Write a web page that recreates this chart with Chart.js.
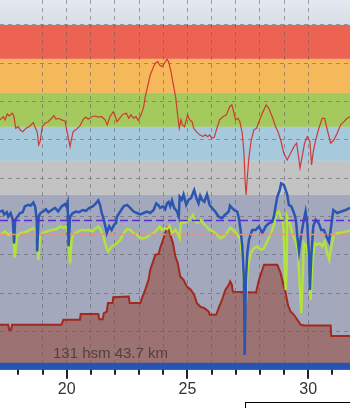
<!DOCTYPE html>
<html lang="nl">
<head>
  <meta charset="UTF-8">
  <title>Rit profiel</title>
  <script src="https://cdn.jsdelivr.net/npm/chart.js"></script>
  <style>
    html, body { margin: 0; padding: 0; background: #fff; overflow: hidden; }
    .wrap { position: relative; width: 350px; height: 408px; }
    .box {
      position: absolute;
      left: 245px;
      top: 402px;
      width: 120px;
      height: 20px;
      border: 1px solid #000;
      background: #fff;
    }
  </style>
</head>
<body>
<div class="wrap">
  <canvas id="rideChart" width="350" height="408"></canvas>
  <div class="box"></div>
</div>
<script>
  // visible stretch of the ride (km)
  const kmStart = 17.24;
  const kmEnd = 31.73;
  const totalClimb = 131;
  const totalKm = 43.7;

  // heart rate zone limits (bpm), highest first
  const hrZones = [190, 175, 160, 145, 130, 115];

  const avgSpeed = 20.2;
  const avgCadence = 73.2;

  // [km, bpm]
  const heartRate = [
    [17.24,148.1],[17.38,149.5],[17.45,148.1],[17.54,150.7],[17.62,149.8],[17.75,151.0],[17.82,149.5],[17.89,144.4],[18.00,145.1],[18.07,143.7],
    [18.18,142.9],[18.32,144.4],[18.48,145.4],[18.62,146.9],[18.69,144.8],[18.78,142.9],[18.84,137.0],[18.90,138.5],[18.95,142.2],[18.99,145.1],
    [19.10,146.6],[19.24,147.3],[19.38,148.8],[19.47,150.0],[19.56,148.4],[19.65,148.8],[19.79,148.1],[19.93,147.6],[20.00,143.7],[20.07,140.0],
    [20.14,136.3],[20.19,139.2],[20.27,142.9],[20.41,144.0],[20.55,145.4],[20.69,148.4],[20.80,149.3],[20.89,148.4],[21.04,149.5],[21.17,149.8],
    [21.31,149.3],[21.45,149.5],[21.59,148.1],[21.68,145.9],[21.79,149.5],[21.93,151.7],[22.04,148.8],[22.08,147.3],[22.19,148.8],[22.33,150.6],
    [22.47,151.0],[22.57,148.8],[22.66,150.3],[22.77,148.8],[22.87,149.5],[22.96,147.8],[23.08,150.3],[23.19,153.9],[23.25,158.3],[23.35,162.8],
    [23.46,167.9],[23.57,170.9],[23.67,173.1],[23.77,173.8],[23.85,172.3],[23.95,171.6],[24.04,173.1],[24.15,174.8],[24.22,173.8],[24.32,169.4],
    [24.43,162.8],[24.51,158.3],[24.57,152.5],[24.62,148.1],[24.66,144.4],[24.73,148.1],[24.79,145.9],[24.88,145.1],[25.01,150.3],[25.09,148.1],
    [25.19,147.3],[25.26,144.4],[25.37,142.9],[25.51,141.5],[25.64,140.7],[25.74,141.5],[25.84,140.7],[25.92,141.5],[26.01,140.0],[26.11,140.4],
    [26.22,144.4],[26.33,148.1],[26.47,149.5],[26.61,150.3],[26.75,153.9],[26.84,154.7],[26.91,151.7],[26.99,148.1],[27.09,148.8],[27.17,147.3],
    [27.27,142.2],[27.34,133.4],[27.39,120.1],[27.43,115.0],[27.48,123.1],[27.55,131.9],[27.64,139.2],[27.75,143.7],[27.86,144.4],[27.96,147.3],
    [28.10,151.0],[28.26,154.7],[28.37,153.2],[28.51,149.5],[28.65,145.1],[28.75,142.9],[28.86,139.2],[28.99,133.4],[29.13,130.4],[29.27,133.4],
    [29.41,136.3],[29.52,137.8],[29.62,130.4],[29.66,126.8],[29.75,131.9],[29.85,137.8],[29.96,140.7],[30.07,138.5],[30.14,128.2],[30.21,134.1],
    [30.31,139.2],[30.44,144.4],[30.58,148.8],[30.68,148.8],[30.79,143.7],[30.93,137.8],[31.06,139.2],[31.20,142.2],[31.34,145.9],[31.48,147.3],
    [31.61,148.8],[31.73,149.5]
  ];

  // [km, km/h]
  const speed = [
    [17.24,21.4],[17.35,21.5],[17.41,21.0],[17.52,21.3],[17.58,20.7],[17.68,21.2],[17.77,20.3],[17.82,17.1],[17.87,20.3],[17.96,20.7],
    [18.07,21.2],[18.18,21.3],[18.27,22.1],[18.41,22.3],[18.51,22.2],[18.62,22.6],[18.70,22.0],[18.76,20.3],[18.78,16.0],[18.84,20.7],
    [18.92,21.2],[19.03,21.4],[19.14,21.7],[19.24,21.3],[19.38,21.6],[19.52,21.9],[19.65,21.4],[19.79,22.1],[19.93,22.4],[20.00,22.0],
    [20.04,22.5],[20.08,16.7],[20.14,20.7],[20.25,21.2],[20.39,21.4],[20.52,21.3],[20.66,21.6],[20.80,21.5],[20.94,21.9],[21.08,22.1],
    [21.21,22.5],[21.31,22.9],[21.38,22.3],[21.45,21.2],[21.54,20.3],[21.66,18.5],[21.76,19.4],[21.86,18.9],[21.96,19.6],[22.04,19.8],
    [22.08,20.7],[22.22,21.4],[22.36,22.1],[22.50,22.3],[22.63,21.9],[22.77,21.4],[22.91,21.2],[23.05,21.0],[23.19,21.2],[23.32,21.4],
    [23.46,21.2],[23.60,21.6],[23.71,22.5],[23.81,22.2],[23.87,21.9],[23.99,22.1],[24.08,21.7],[24.15,22.5],[24.22,22.7],[24.29,22.1],
    [24.36,22.9],[24.45,21.9],[24.57,21.4],[24.64,20.7],[24.68,23.4],[24.77,23.0],[24.84,23.7],[24.95,22.3],[25.05,23.0],[25.15,23.2],
    [25.23,23.9],[25.28,24.3],[25.37,23.2],[25.46,22.5],[25.53,23.5],[25.60,23.0],[25.70,22.7],[25.81,23.7],[25.92,22.3],[26.01,21.9],
    [26.15,21.4],[26.29,20.7],[26.43,20.5],[26.57,21.0],[26.71,21.4],[26.76,22.2],[26.93,21.6],[27.06,21.4],[27.13,20.5],[27.20,18.9],
    [27.27,16.7],[27.34,12.2],[27.37,2.0],[27.42,12.2],[27.48,15.8],[27.55,17.6],[27.68,18.9],[27.82,18.9],[27.96,19.4],[28.10,18.5],
    [28.24,19.4],[28.37,19.8],[28.51,20.0],[28.58,20.7],[28.65,22.1],[28.72,23.4],[28.82,24.3],[28.88,25.2],[28.99,25.0],[29.07,24.3],
    [29.13,23.7],[29.20,22.3],[29.30,22.1],[29.41,21.2],[29.49,20.3],[29.55,18.0],[29.62,16.0],[29.69,17.8],[29.82,20.3],[29.89,21.4],
    [29.96,19.8],[30.03,15.8],[30.07,10.8],[30.12,14.9],[30.21,19.4],[30.31,20.3],[30.44,19.8],[30.54,18.9],[30.65,18.9],[30.76,18.0],
    [30.86,17.3],[30.95,19.4],[31.04,21.6],[31.20,21.2],[31.37,21.4],[31.55,21.6],[31.73,21.9]
  ];

  // [km, rpm]
  const cadence = [
    [17.24,73.0],[17.35,73.9],[17.45,74.8],[17.58,73.0],[17.72,73.9],[17.79,71.2],[17.86,60.5],[17.93,72.1],[18.07,73.9],[18.20,74.2],
    [18.35,74.8],[18.48,75.7],[18.62,76.6],[18.73,75.7],[18.78,70.3],[18.83,59.5],[18.90,73.0],[19.03,74.2],[19.17,74.8],[19.31,75.3],
    [19.45,75.7],[19.59,76.1],[19.72,77.5],[19.86,76.9],[20.00,77.5],[20.07,73.9],[20.14,57.7],[20.21,71.2],[20.34,73.9],[20.48,74.8],
    [20.62,75.7],[20.76,75.3],[20.89,75.7],[21.04,74.8],[21.17,76.1],[21.31,77.5],[21.41,75.7],[21.52,72.1],[21.63,66.7],[21.72,64.0],
    [21.86,66.7],[22.00,67.6],[22.08,68.5],[22.22,70.3],[22.36,73.9],[22.50,76.1],[22.63,75.7],[22.77,73.9],[22.91,73.0],[23.05,71.2],
    [23.19,71.2],[23.32,71.7],[23.46,73.0],[23.60,73.9],[23.74,75.7],[23.85,77.5],[23.95,75.7],[24.08,76.6],[24.15,76.1],[24.26,77.8],
    [24.36,73.9],[24.50,75.7],[24.59,73.9],[24.68,71.2],[24.73,80.2],[24.84,79.3],[24.98,80.2],[25.12,82.0],[25.23,83.8],[25.32,80.2],
    [25.42,79.3],[25.53,81.1],[25.64,79.3],[25.78,77.5],[25.92,75.7],[26.08,74.8],[26.22,73.0],[26.36,71.2],[26.50,72.1],[26.64,74.2],
    [26.77,76.8],[26.93,75.1],[27.06,73.0],[27.17,71.2],[27.23,66.7],[27.31,52.3],[27.41,35.1],[27.50,55.8],[27.62,63.1],[27.75,65.8],
    [27.89,66.7],[28.03,64.9],[28.17,65.8],[28.30,69.4],[28.44,73.0],[28.58,78.4],[28.69,84.7],[28.79,85.6],[28.86,82.9],[28.97,79.3],
    [29.02,57.7],[29.07,43.2],[29.11,57.7],[29.13,82.9],[29.24,79.3],[29.34,73.9],[29.48,69.4],[29.57,64.9],[29.66,43.2],[29.71,30.7],
    [29.77,48.7],[29.82,68.5],[29.93,66.7],[30.03,57.7],[30.10,37.8],[30.17,57.7],[30.27,68.5],[30.37,67.6],[30.48,68.5],[30.58,66.7],
    [30.68,69.4],[30.79,63.1],[30.87,59.5],[30.95,65.8],[31.06,73.0],[31.20,73.9],[31.41,74.2],[31.73,75.3]
  ];

  // [km, m]
  const elevation = [
    [17.24,23.5],[17.58,23.5],[17.62,20.9],[17.70,20.9],[17.74,23.5],[19.79,23.5],[19.86,26.1],[20.55,26.1],[20.58,29.1],[21.31,29.1],
    [21.35,26.4],[21.49,26.4],[21.54,29.6],[21.66,30.4],[21.71,34.8],[21.90,34.8],[21.93,37.9],[22.57,38.2],[22.61,34.8],[23.05,34.8],
    [23.12,37.4],[23.25,41.7],[23.39,46.9],[23.46,52.2],[23.60,57.4],[23.67,60.0],[23.81,60.5],[23.87,63.5],[23.99,67.8],[24.08,71.3],
    [24.15,74.4],[24.22,74.4],[24.29,70.4],[24.40,66.1],[24.50,59.1],[24.60,55.7],[24.70,48.7],[24.84,46.9],[24.98,43.4],[25.15,41.7],
    [25.28,39.1],[25.39,34.8],[25.53,33.0],[25.70,32.2],[25.88,30.4],[25.92,28.7],[26.19,28.7],[26.29,32.2],[26.43,36.5],[26.57,41.7],
    [26.71,44.3],[26.77,46.1],[26.84,44.3],[26.88,40.8],[27.84,40.4],[27.96,46.9],[28.17,54.8],[28.72,54.8],[28.86,50.4],[28.99,43.4],
    [29.07,40.0],[29.16,33.9],[29.27,30.4],[29.41,28.7],[29.55,26.1],[29.69,23.5],[29.86,23.1],[30.93,23.1],[30.95,17.7],[31.73,17.7]
  ];

  const toPoints = rows => rows.map(([x, y]) => ({ x, y }));
  const gridColor = 'rgba(95, 95, 105, 0.55)';

  // coloured heart-rate zones behind everything
  const zoneBands = {
    id: 'zoneBands',
    beforeDraw(chart) {
      const { ctx, chartArea: a, scales } = chart;
      const hr = scales.hr;
      const colors = ['#ec6351', '#f5b85b', '#a4c95c', '#a6c9dc', '#c3c3c4', '#a3a8bc'];
      ctx.save();
      const topEdge = hr.getPixelForValue(hrZones[0]);
      const g = ctx.createLinearGradient(0, a.top, 0, topEdge);
      g.addColorStop(0, '#e5e9ef');
      g.addColorStop(1, '#d6dde6');
      ctx.fillStyle = g;
      ctx.fillRect(a.left, a.top, a.width, topEdge - a.top);
      hrZones.forEach((limit, i) => {
        const y1 = hr.getPixelForValue(limit);
        const y2 = i + 1 < hrZones.length ? hr.getPixelForValue(hrZones[i + 1]) : a.bottom;
        ctx.fillStyle = colors[i];
        ctx.fillRect(a.left, y1, a.width, y2 - y1);
      });
      ctx.restore();
    }
  };

  // blue base strip, km tick marks and the summary text
  const overlay = {
    id: 'overlay',
    afterDatasetsDraw(chart) {
      const { ctx, chartArea: a, scales } = chart;
      const x = scales.x;
      ctx.save();
      ctx.fillStyle = '#2554b3';
      ctx.fillRect(a.left, a.bottom - 7, a.width, 7);

      ctx.strokeStyle = '#222';
      ctx.lineWidth = 2;
      for (let km = Math.ceil(kmStart); km <= Math.floor(kmEnd); km++) {
        const px = Math.round(x.getPixelForValue(km));
        ctx.beginPath();
        ctx.moveTo(px, a.bottom);
        ctx.lineTo(px, a.bottom + (km % 5 === 0 ? 9 : 5));
        ctx.stroke();
      }

      ctx.font = '15px "Liberation Sans", Arial, sans-serif';
      ctx.fillStyle = 'rgba(45, 45, 45, 0.7)';
      ctx.textBaseline = 'alphabetic';
      ctx.fillText(totalClimb + ' hsm ' + totalKm + ' km', a.left + 53, a.bottom - 12);
      ctx.restore();
    }
  };

  new Chart(document.getElementById('rideChart'), {
    type: 'line',
    data: {
      datasets: [
        {
          label: 'gem. snelheid',
          data: toPoints([[kmStart, avgSpeed], [kmEnd, avgSpeed]]),
          yAxisID: 'spd',
          borderColor: '#5a2cd2',
          borderWidth: 1.5,
          borderDash: [8, 4],
          order: 1
        },
        {
          label: 'gem. cadans',
          data: toPoints([[kmStart, avgCadence], [kmEnd, avgCadence]]),
          yAxisID: 'cad',
          borderColor: '#e8907a',
          borderWidth: 1.5,
          borderDash: [6, 4],
          order: 1
        },
        {
          label: 'hartslag',
          data: toPoints(heartRate),
          yAxisID: 'hr',
          borderColor: 'rgba(212, 42, 42, 0.9)',
          borderWidth: 1.2,
          order: 2
        },
        {
          label: 'snelheid',
          data: toPoints(speed),
          yAxisID: 'spd',
          borderColor: '#2a55b1',
          borderWidth: 2.5,
          order: 3
        },
        {
          label: 'cadans',
          data: toPoints(cadence),
          yAxisID: 'cad',
          borderColor: '#b2e23c',
          borderWidth: 2.5,
          order: 4
        },
        {
          label: 'hoogte',
          data: toPoints(elevation),
          yAxisID: 'ele',
          borderColor: '#a3281e',
          borderWidth: 2,
          backgroundColor: 'rgba(150, 60, 40, 0.5)',
          fill: 'start',
          order: 5
        }
      ]
    },
    options: {
      responsive: false,
      animation: false,
      layout: { autoPadding: false, padding: { left: 0, right: 0, top: 0, bottom: 9 } },
      plugins: { legend: { display: false }, tooltip: { enabled: false } },
      elements: { point: { radius: 0 }, line: { tension: 0 } },
      scales: {
        x: {
          type: 'linear',
          min: kmStart,
          max: kmEnd,
          border: { display: false, dash: [4, 4] },
          grid: {
            drawTicks: true,
            tickLength: 10,
            tickColor: 'transparent',
            lineWidth: 1,
            color: c => Number.isInteger(c.tick.value) ? gridColor : 'transparent'
          },
          ticks: {
            stepSize: 1,
            autoSkip: false,
            maxRotation: 0,
            padding: 0,
            color: '#333',
            font: { family: '"Liberation Sans", Arial, sans-serif', size: 16 },
            callback: v => v % 5 === 0 ? v : ''
          }
        },
        ele: {
          position: 'left',
          min: 0,
          max: 193,
          border: { display: false, dash: [4, 4] },
          grid: {
            drawTicks: false,
            lineWidth: 1,
            color: c => (c.tick.value > 0 && c.tick.value % 20 === 0) ? gridColor : 'transparent'
          },
          ticks: { display: false, stepSize: 20, padding: 0 }
        },
        hr: { display: false, min: 37.8, max: 201 },
        spd: { display: false, min: 0, max: 50 },
        cad: { display: false, min: 0, max: 200 }
      }
    },
    plugins: [zoneBands, overlay]
  });
</script>
</body>
</html>
